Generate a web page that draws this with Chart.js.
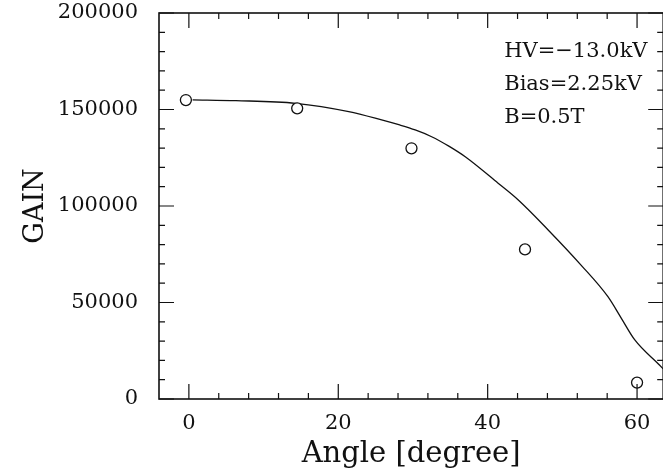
<!DOCTYPE html>
<html>
<head>
<meta charset="utf-8">
<script src="https://cdn.jsdelivr.net/npm/chart.js@4.4.0/dist/chart.umd.min.js"></script>
<style>
  html, body { margin: 0; padding: 0; background: #fff; overflow: hidden; }
</style>
</head>
<body>
<canvas id="gainChart" width="670" height="474"></canvas>
<script>
// measured gain at each incidence angle
const angles = [-0.4, 14.5, 29.8, 45, 60];
const gains = [154900, 150600, 129900, 77500, 8500];

// calculated gain curve
const curveAngles = [0.5, 6.3, 14.3, 21.4, 25.8, 28.1, 30.3, 32.5, 34.8, 37.0, 41.4, 44.1, 48.1, 52.5, 56.1, 57.9, 59.7, 63.0, 63.5];
const curveGains = [155000, 154600, 153200, 148900, 144600, 142100, 139400, 135900, 131000, 125500, 111800, 103100, 87600, 69400, 53000, 41800, 30600, 17600, 15600];

const xMajor = [0, 20, 40, 60];
const xMinor = [4, 8, 12, 16, 24, 28, 32, 36, 44, 48, 52, 56];
const yMajor = [0, 50000, 100000, 150000, 200000];
const yMinor = [10000, 20000, 30000, 40000, 60000, 70000, 80000, 90000,
                110000, 120000, 130000, 140000, 160000, 170000, 180000, 190000];

const conditions = ['HV=\u221213.0kV', 'Bias=2.25kV', 'B=0.5T'];

Chart.defaults.font.family = "'DejaVu Serif', serif";
Chart.defaults.color = '#111';

// box frame with inward ticks on all four sides, plus the run conditions
const frameTicks = {
  id: 'frameTicks',
  afterDraw(chart) {
    const { ctx, chartArea: a, scales: { x, y } } = chart;
    ctx.save();
    ctx.strokeStyle = '#111';
    ctx.lineWidth = 1.6;
    ctx.strokeRect(a.left, a.top, a.right - a.left, a.bottom - a.top);

    ctx.lineWidth = 1.2;
    ctx.beginPath();
    const xTick = (v, len) => {
      const px = x.getPixelForValue(v);
      ctx.moveTo(px, a.bottom); ctx.lineTo(px, a.bottom - len);
      ctx.moveTo(px, a.top); ctx.lineTo(px, a.top + len);
    };
    const yTick = (v, len) => {
      const py = y.getPixelForValue(v);
      ctx.moveTo(a.left, py); ctx.lineTo(a.left + len, py);
      ctx.moveTo(a.right, py); ctx.lineTo(a.right - len, py);
    };
    xMajor.forEach(v => xTick(v, 15));
    xMinor.forEach(v => xTick(v, 6));
    yMajor.forEach(v => yTick(v, 15));
    yMinor.forEach(v => yTick(v, 6));
    ctx.stroke();

    ctx.fillStyle = '#111';
    ctx.font = "21px 'DejaVu Serif'";
    ctx.textAlign = 'left';
    ctx.textBaseline = 'alphabetic';
    conditions.forEach((t, i) => {
      ctx.fillText(t, a.right - 159, a.top + 44 + i * 33);
    });
    ctx.restore();
  }
};

const ctx = document.getElementById('gainChart').getContext('2d');

new Chart(ctx, {
  type: 'scatter',
  data: {
    datasets: [
      {
        label: 'measured',
        data: angles.map((a, i) => ({ x: a, y: gains[i] })),
        showLine: false,
        pointRadius: 5.5,
        pointBorderWidth: 1.3,
        pointBackgroundColor: '#fff',
        pointBorderColor: '#111'
      },
      {
        label: 'calculation',
        data: curveAngles.map((a, i) => ({ x: a, y: curveGains[i] })),
        showLine: true,
        borderColor: '#111',
        borderWidth: 1.3,
        pointRadius: 0,
        fill: false,
        cubicInterpolationMode: 'monotone'
      }
    ]
  },
  options: {
    responsive: false,
    animation: false,
    layout: { padding: { top: 13, right: 4, left: 0, bottom: 0 } },
    plugins: {
      legend: { display: false },
      tooltip: { enabled: false }
    },
    scales: {
      x: {
        type: 'linear',
        min: -4,
        max: 63.5,
        afterBuildTicks: s => { s.ticks = xMajor.map(v => ({ value: v })); },
        afterFit: s => {
          s.height = 75;
          s.paddingLeft = 0;
          s.paddingRight = 0;
        },
        grid: { display: false, drawTicks: false },
        border: { display: false },
        ticks: { font: { size: 21 }, padding: 12, maxRotation: 0, callback: v => String(v) },
        title: {
          display: true,
          text: 'Angle [degree]',
          font: { size: 29 },
          padding: { top: 0, bottom: 2 }
        }
      },
      y: {
        min: 0,
        max: 200000,
        afterBuildTicks: s => { s.ticks = yMajor.map(v => ({ value: v })); },
        afterFit: s => {
          s.width = 159;
          s.paddingTop = 0;
          s.paddingBottom = 0;
        },
        grid: { display: false, drawTicks: false },
        border: { display: false },
        ticks: { font: { size: 21 }, padding: 21, callback: v => String(v) },
        title: {
          display: true,
          text: 'GAIN',
          font: { size: 27 },
          padding: { top: 20, bottom: 0 }
        }
      }
    }
  },
  plugins: [frameTicks]
});
</script>
</body>
</html>
